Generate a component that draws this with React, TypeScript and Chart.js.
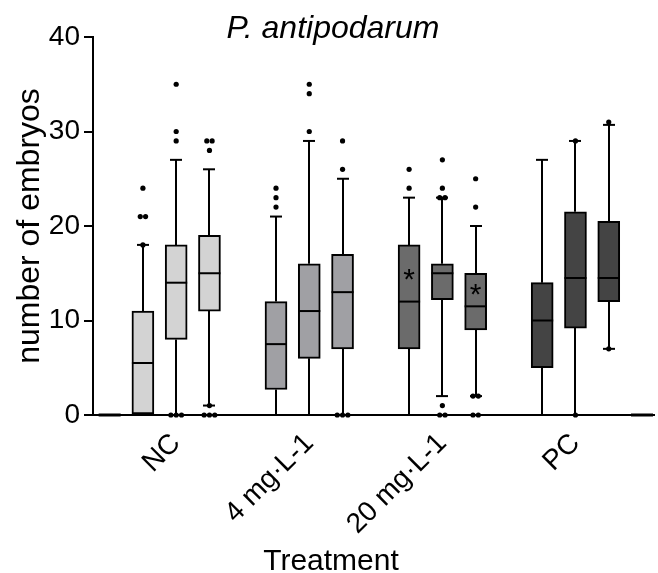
import React, { useEffect, useRef } from "react";
import { Chart, registerables } from "chart.js";

Chart.register(...registerables);

// Box positions on a linear x axis (three time points per treatment, plus two all-zero boxes)
const positions = [0, 1, 2, 3, 5, 6, 7, 9, 10, 11, 13, 14, 15, 16];
const groupLabels = ["NC", "4 mg·L-1", "20 mg·L-1", "PC"];
const groupCenters = [2, 6, 10, 14];

const q1 = [0, 0, 8, 11, 2.7, 6, 7, 7, 12.2, 9, 5, 9.2, 12, 0];
const medians = [0, 5.5, 14, 15, 7.5, 11, 13, 12, 15, 11.5, 10, 14.5, 14.5, 0];
const q3 = [0, 11, 18, 19, 12, 16, 17, 18, 16, 15, 14, 21.5, 20.5, 0];
const whiskerLow = [0, 0, 0, 1, 0, 0, 0, 0, 2, 2, 0, 0, 7, 0];
const whiskerHigh = [0, 18, 27, 26, 21, 29, 25, 23, 23, 20, 27, 29, 30.7, 0];
const outliers: number[][] = [
  [],
  [24, 21, 21, 18],
  [35, 30, 29, 0, 0, 0],
  [29, 29, 28, 1, 0, 0, 0],
  [24, 23, 22],
  [35, 34, 30],
  [29, 26, 0, 0, 0],
  [26, 24],
  [27, 24, 23, 23, 1, 0, 0],
  [25, 22, 2, 2, 0, 0],
  [],
  [29, 0],
  [31, 7],
  [],
];
const asteriskValues: (number | null)[] = [null, null, null, null, null, null, null, 14.7, null, 13.2, null, null, null, null];

const chartTitle = "P. antipodarum";
const xTitle = "Treatment";
const yTitle = "number of embryos";

const groupColors = ["#d3d3d3", "#a0a0a4", "#6b6b6b", "#444444"];
const boxColors = [
  "#000000",
  groupColors[0], groupColors[0], groupColors[0],
  groupColors[1], groupColors[1], groupColors[1],
  groupColors[2], groupColors[2], groupColors[2],
  groupColors[3], groupColors[3], groupColors[3],
  "#000000",
];

const FONT = "'Liberation Sans', Arial, Helvetica, sans-serif";
const BOX_PX = 22;
const CAP_PX = 12;
const DOT_STEP = 0.16; // spacing of tied values, in x units

function buildOutlierPoints() {
  const pts: { x: number; y: number }[] = [];
  outliers.forEach((vals, i) => {
    const counts: Record<string, number> = {};
    vals.forEach((v) => (counts[v] = (counts[v] || 0) + 1));
    const seen: Record<string, number> = {};
    vals.forEach((v) => {
      const n = counts[v];
      const k = seen[v] || 0;
      seen[v] = k + 1;
      pts.push({ x: positions[i] + (k - (n - 1) / 2) * DOT_STEP, y: v });
    });
  });
  return pts;
}

const boxPlugin = {
  id: "boxParts",
  beforeDatasetsDraw(chart: any) {
    const { ctx, scales } = chart;
    const xs = scales.x;
    const ys = scales.y;
    ctx.save();
    ctx.strokeStyle = "#000";
    ctx.lineWidth = 2;
    positions.forEach((p, i) => {
      const x = Math.round(xs.getPixelForValue(p));
      const segs: [number, number][] = [
        [q3[i], whiskerHigh[i]],
        [q1[i], whiskerLow[i]],
      ];
      segs.forEach(([a, b]) => {
        if (a === b) return;
        const ya = ys.getPixelForValue(a);
        const yb = ys.getPixelForValue(b);
        ctx.beginPath();
        ctx.moveTo(x, ya);
        ctx.lineTo(x, yb);
        ctx.stroke();
        ctx.beginPath();
        ctx.moveTo(x - CAP_PX / 2, yb);
        ctx.lineTo(x + CAP_PX / 2, yb);
        ctx.stroke();
      });
    });
    ctx.restore();
  },
  afterDatasetDraw(chart: any, args: any) {
    if (args.index !== 1) return;
    const { ctx, scales } = chart;
    const xs = scales.x;
    const ys = scales.y;
    ctx.save();
    ctx.strokeStyle = "#000";
    positions.forEach((p, i) => {
      const x = xs.getPixelForValue(p);
      const y = ys.getPixelForValue(medians[i]);
      const flat = q1[i] === q3[i];
      ctx.lineWidth = flat ? 3 : 2;
      ctx.beginPath();
      ctx.moveTo(x - BOX_PX / 2, y);
      ctx.lineTo(x + BOX_PX / 2, y);
      ctx.stroke();
      const a = asteriskValues[i];
      if (a !== null) {
        ctx.fillStyle = "#000";
        ctx.font = `30px ${FONT}`;
        ctx.textAlign = "center";
        ctx.textBaseline = "middle";
        ctx.fillText("*", x, ys.getPixelForValue(a) + 5);
      }
    });
    ctx.restore();
  },
  afterDraw(chart: any) {
    const { ctx } = chart;
    ctx.save();
    ctx.fillStyle = "#000";
    ctx.textAlign = "center";
    ctx.textBaseline = "alphabetic";
    ctx.font = `italic 32px ${FONT}`;
    ctx.fillText(chartTitle, 333, 38);
    ctx.font = `30px ${FONT}`;
    ctx.fillText(xTitle, 331, 570);
    ctx.restore();
  },
};

export default function App() {
  const ref = useRef<HTMLCanvasElement | null>(null);
  useEffect(() => {
    if (!ref.current) return;
    const chart = new Chart(ref.current, {
      type: "bar",
      data: {
        datasets: [
          {
            type: "scatter",
            data: buildOutlierPoints(),
            pointRadius: 2.6,
            pointBackgroundColor: "#000",
            pointBorderWidth: 0,
            clip: false,
          } as any,
          {
            type: "bar",
            data: positions.map((p, i) => ({ x: p, y: [q1[i], q3[i]] })),
            backgroundColor: boxColors,
            borderColor: "#000",
            borderWidth: 2,
            borderSkipped: false,
            barThickness: BOX_PX,
            clip: false,
          } as any,
        ],
      },
      options: {
        responsive: false,
        animation: false,
        devicePixelRatio: 1,
        layout: { padding: { top: 37, right: 0, left: 0, bottom: 0 } },
        plugins: {
          legend: { display: false },
          tooltip: { enabled: false },
          title: { display: false },
        },
        scales: {
          x: {
            type: "linear",
            min: -0.5,
            max: 16.36,
            offset: false,
            grid: { display: false, drawTicks: false },
            border: { display: true, color: "#000", width: 2 },
            afterBuildTicks: (scale: any) => {
              scale.ticks = groupCenters.map((v) => ({ value: v }));
            },
            afterFit: (scale: any) => {
              scale.height = 158;
            },
            ticks: {
              autoSkip: false,
              maxRotation: 45,
              minRotation: 45,
              padding: 12,
              color: "#000",
              font: { family: FONT, size: 28 },
              callback: (v: any) => {
                const k = groupCenters.indexOf(Number(v));
                return k >= 0 ? groupLabels[k] : "";
              },
            },
            title: { display: false },
          },
          y: {
            type: "linear",
            min: 0,
            max: 40,
            afterFit: (scale: any) => {
              scale.width = 93;
            },
            grid: {
              display: true,
              drawOnChartArea: false,
              drawTicks: true,
              tickLength: 9,
              color: "#000",
              lineWidth: 2,
            },
            border: { display: true, color: "#000", width: 2 },
            ticks: {
              stepSize: 10,
              padding: 4,
              color: "#000",
              font: { family: FONT, size: 28 },
            },
            title: {
              display: true,
              text: yTitle,
              color: "#000",
              font: { family: FONT, size: 32 },
              padding: { top: 11, bottom: 0 },
            },
          },
        },
      },
      plugins: [boxPlugin],
    } as any);
    return () => chart.destroy();
  }, []);
  return (
    <div style={{ position: "absolute", left: 0, top: 0, width: 658, height: 573, background: "#fff" }}>
      <canvas ref={ref} width={658} height={573} style={{ display: "block" }} />
    </div>
  );
}
